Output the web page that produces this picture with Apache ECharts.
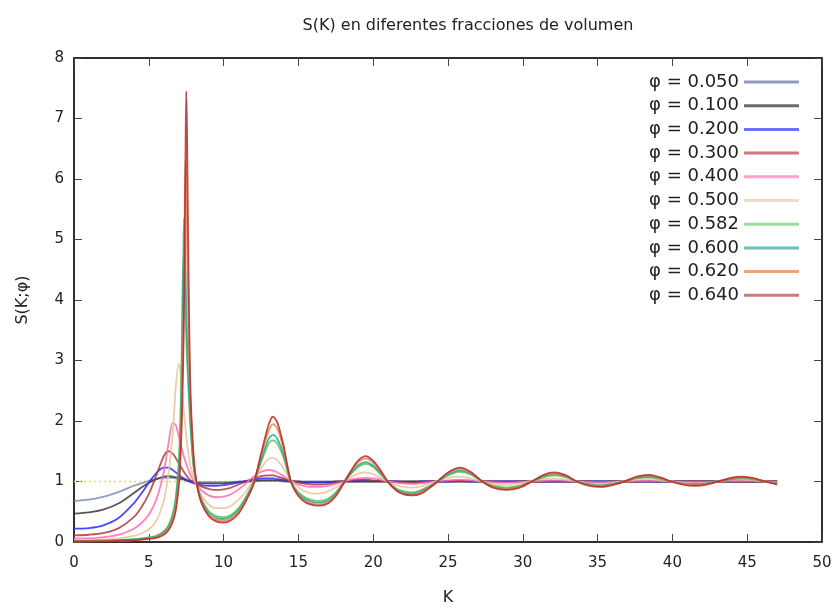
<!DOCTYPE html>
<html>
<head>
<meta charset="utf-8">
<script src="https://cdn.jsdelivr.net/npm/echarts@6/dist/echarts.min.js"></script>
<style>
html,body{margin:0;padding:0;background:#fff;}
#chart{width:835px;height:611px;}
</style>
</head>
<body>
<div id="chart"></div>
<script>
var K = [0,1,2,3,4,4.5,5,5.5,
 6,6.3,6.6,6.8,7.0,7.1,7.2,7.3,
 7.35,7.4,7.45,7.5,7.55,7.6,7.7,7.8,
 8.0,8.2,8.5,9,9.5,10,10.5,11,
 11.5,12,12.5,13,13.3,13.6,14,14.5,
 15,15.5,16,16.4,17,17.5,18,18.5,
 19,19.5,20,20.5,21,21.5,22,22.6,
 23.2,23.8,24.3,25,25.8,26.5,27.3,28,
 28.9,29.8,30.6,31.4,32.1,32.9,33.6,34.4,
 35.2,36,36.9,37.6,38.4,39.2,39.9,40.7,
 41.5,42.3,43.2,43.9,44.7,45.5,46.2,47];

var labels = ['φ = 0.050','φ = 0.100','φ = 0.200','φ = 0.300','φ = 0.400','φ = 0.500','φ = 0.582','φ = 0.600','φ = 0.620','φ = 0.640'];

var S050 = [0.68,0.70,0.75,0.83,0.93,0.97,1.01,1.04,
 1.06,1.06,1.06,1.05,1.04,1.04,1.03,1.03,
 1.03,1.02,1.02,1.02,1.01,1.01,1.01,1.00,
 1.00,0.99,0.99,0.99,0.99,0.99,0.99,1.00,
 1.00,1.00,1.01,1.01,1.01,1.01,1.00,1.00,
 1.00,1.00,1.00,1.00,1.00,1.00,1.00,1.00,
 1.00,1.00,1.00,1.00,1.00,1.00,1.00,1.00,
 1.00,1.00,1.00,1.00,1.00,1.00,1.00,1.00,
 1.00,1.00,1.00,1.00,1.00,1.00,1.00,1.00,
 1.00,1.00,1.00,1.00,1.00,1.00,1.00,1.00,
 1.00,1.00,1.00,1.00,1.00,1.00,1.00,1.00];

var S100 = [0.47,0.49,0.54,0.64,0.81,0.90,0.98,1.04,
 1.08,1.09,1.08,1.07,1.06,1.05,1.05,1.04,
 1.04,1.03,1.03,1.03,1.02,1.02,1.01,1.01,
 0.99,0.98,0.97,0.97,0.97,0.97,0.98,0.99,
 1.00,1.01,1.02,1.02,1.02,1.02,1.01,1.00,
 1.00,0.99,0.99,0.99,0.99,1.00,1.00,1.00,
 1.00,1.00,1.00,1.00,1.00,1.00,1.00,1.00,
 1.00,1.00,1.00,1.00,1.00,1.00,1.00,1.00,
 1.00,1.00,1.00,1.00,1.00,1.00,1.00,1.00,
 1.00,1.00,1.00,1.00,1.00,1.00,1.00,1.00,
 1.00,1.00,1.00,1.00,1.00,1.00,1.00,1.00];

var S200 = [0.22,0.23,0.28,0.40,0.64,0.80,0.98,1.14,
 1.23,1.23,1.19,1.15,1.11,1.09,1.07,1.06,
 1.05,1.04,1.04,1.03,1.02,1.01,1.00,0.99,
 0.97,0.96,0.94,0.93,0.93,0.94,0.96,0.98,
 1.01,1.03,1.05,1.05,1.05,1.04,1.03,1.01,
 0.99,0.98,0.98,0.98,0.99,0.99,1.00,1.01,
 1.02,1.02,1.01,1.01,1.00,1.00,0.99,0.99,
 1.00,1.00,1.00,1.00,1.01,1.00,1.00,1.00,
 1.00,1.00,1.00,1.00,1.00,1.00,1.00,1.00,
 1.00,1.00,1.00,1.00,1.00,1.00,1.00,1.00,
 1.00,1.00,1.00,1.00,1.00,1.00,1.00,1.00];

var S300 = [0.11,0.12,0.15,0.23,0.41,0.57,0.79,1.10,
 1.42,1.50,1.46,1.39,1.30,1.26,1.22,1.18,
 1.16,1.14,1.12,1.10,1.09,1.07,1.04,1.02,
 0.99,0.96,0.92,0.88,0.86,0.87,0.90,0.95,
 1.00,1.05,1.09,1.10,1.10,1.08,1.05,1.01,
 0.98,0.96,0.95,0.95,0.96,0.98,1.00,1.02,
 1.03,1.03,1.02,1.01,1.00,0.99,0.98,0.98,
 0.99,1.00,1.00,1.01,1.01,1.01,1.00,1.00,
 0.99,1.00,1.00,1.00,1.01,1.00,1.00,1.00,
 0.99,1.00,1.00,1.00,1.01,1.00,1.00,1.00,
 1.00,1.00,1.00,1.00,1.00,1.00,1.00,1.00];

var S400 = [0.06,0.06,0.08,0.12,0.22,0.31,0.45,0.70,
 1.15,1.60,1.97,1.93,1.75,1.64,1.54,1.45,
 1.41,1.37,1.33,1.29,1.26,1.22,1.16,1.10,
 1.02,0.95,0.86,0.77,0.74,0.75,0.79,0.87,
 0.97,1.08,1.16,1.19,1.18,1.15,1.09,1.01,
 0.95,0.92,0.91,0.91,0.93,0.96,1.00,1.03,
 1.05,1.06,1.05,1.03,1.00,0.98,0.97,0.96,
 0.97,0.99,1.00,1.02,1.03,1.02,1.00,0.99,
 0.98,0.99,1.00,1.01,1.02,1.01,1.00,0.99,
 0.99,0.99,1.00,1.01,1.01,1.01,1.00,0.99,
 0.99,0.99,1.00,1.01,1.01,1.01,1.00,0.99];

var S500 = [0.03,0.03,0.04,0.06,0.10,0.14,0.21,0.35,
 0.68,1.10,1.80,2.55,2.95,2.85,2.60,2.30,
 2.15,2.00,1.88,1.76,1.65,1.55,1.38,1.24,
 1.05,0.94,0.78,0.62,0.56,0.56,0.60,0.70,
 0.84,1.02,1.22,1.37,1.39,1.35,1.22,1.02,
 0.90,0.83,0.80,0.80,0.84,0.90,0.98,1.07,
 1.13,1.15,1.12,1.06,0.99,0.94,0.91,0.90,
 0.92,0.97,1.01,1.06,1.08,1.05,1.00,0.96,
 0.94,0.97,1.01,1.04,1.05,1.03,1.00,0.97,
 0.96,0.98,1.01,1.03,1.04,1.02,1.00,0.98,
 0.97,0.98,1.01,1.03,1.03,1.02,1.00,0.98];

var S582 = [0.02,0.02,0.03,0.03,0.05,0.06,0.08,0.10,
 0.18,0.27,0.47,0.74,1.32,1.95,3.10,4.70,
 4.55,4.20,3.80,3.40,3.05,2.80,2.30,1.85,
 1.22,0.97,0.72,0.51,0.43,0.41,0.45,0.56,
 0.75,0.99,1.32,1.62,1.68,1.62,1.40,1.00,
 0.82,0.73,0.69,0.68,0.72,0.82,0.97,1.12,
 1.24,1.29,1.24,1.12,0.99,0.89,0.84,0.82,
 0.86,0.93,1.00,1.10,1.16,1.12,1.00,0.93,
 0.90,0.93,1.00,1.07,1.10,1.07,1.00,0.96,
 0.94,0.96,1.01,1.05,1.07,1.04,1.00,0.97,
 0.96,0.97,1.01,1.04,1.05,1.03,1.00,0.97];

var S600 = [0.02,0.02,0.02,0.03,0.04,0.05,0.07,0.09,
 0.16,0.24,0.42,0.66,1.18,1.72,2.70,4.40,
 5.35,5.10,4.50,3.90,3.40,3.00,2.40,1.90,
 1.25,0.97,0.70,0.48,0.40,0.38,0.42,0.53,
 0.73,0.98,1.35,1.70,1.77,1.70,1.45,1.00,
 0.80,0.70,0.66,0.65,0.69,0.80,0.97,1.14,
 1.27,1.32,1.26,1.13,0.99,0.88,0.82,0.80,
 0.84,0.92,1.00,1.12,1.18,1.13,1.00,0.92,
 0.88,0.92,1.00,1.09,1.12,1.08,1.00,0.95,
 0.93,0.96,1.01,1.06,1.08,1.05,1.00,0.96,
 0.95,0.97,1.01,1.04,1.06,1.04,1.00,0.97];

var S620 = [0.01,0.01,0.02,0.02,0.03,0.04,0.06,0.08,
 0.14,0.21,0.37,0.58,1.02,1.45,2.20,3.40,
 4.30,5.50,6.30,6.00,5.20,4.30,3.00,2.20,
 1.35,0.97,0.68,0.45,0.37,0.35,0.39,0.50,
 0.70,0.97,1.42,1.83,1.95,1.87,1.55,1.00,
 0.78,0.67,0.63,0.62,0.66,0.78,0.97,1.16,
 1.32,1.38,1.31,1.16,0.99,0.87,0.80,0.78,
 0.82,0.91,1.00,1.14,1.21,1.15,1.00,0.91,
 0.87,0.91,1.00,1.10,1.13,1.09,1.00,0.94,
 0.92,0.95,1.01,1.07,1.10,1.06,1.00,0.96,
 0.94,0.96,1.01,1.05,1.07,1.04,1.00,0.96];

var S640 = [0.01,0.01,0.01,0.02,0.03,0.04,0.05,0.07,
 0.12,0.19,0.33,0.52,0.92,1.30,1.95,3.00,
 3.80,4.90,6.30,7.45,6.90,5.70,3.60,2.40,
 1.40,0.97,0.66,0.43,0.34,0.32,0.36,0.47,
 0.68,0.95,1.45,1.93,2.07,1.97,1.60,1.00,
 0.76,0.65,0.61,0.60,0.64,0.76,0.96,1.17,
 1.35,1.42,1.34,1.18,0.99,0.86,0.79,0.77,
 0.80,0.90,1.00,1.15,1.23,1.16,1.00,0.90,
 0.86,0.90,1.00,1.11,1.15,1.10,1.00,0.93,
 0.91,0.94,1.01,1.08,1.11,1.07,1.00,0.95,
 0.93,0.95,1.01,1.06,1.08,1.05,1.00,0.95];

var refLine = [[0,1],[47,1]];

var seriesValues = [S050,S100,S200,S300,S400,S500,S582,S600,S620,S640];
var colors = ['#7b8db5','#3a3a3a','#2a2aff','#b03a3a','#ff6ab4','#e8c49a','#5cc45c','#23a595','#e8884a','#b52a2a'];
var legendColors = ['#8c9cbf','#6a6a6a','#6f6fff','#cc7a7a','#ffa0d0','#efdcc6','#9ddc9d','#6cc0b8','#eca57a','#cc7a7a'];

var series = [{
  name: 'ref', type: 'line', data: refLine, symbol: 'none', silent: true,
  lineStyle: {color: '#e8e040', width: 1.5, type: [2, 3]}, z: 1
}];
for (var i = 0; i < labels.length; i++) {
  series.push({
    name: labels[i], type: 'line', symbol: 'none', smooth: 0.3,
    data: K.map(function (k, j) { return [k, seriesValues[i][j]]; }),
    lineStyle: {color: colors[i], width: 1.8, opacity: 0.85},
    itemStyle: {color: legendColors[i]},
    z: 2 + i
  });
}

var FONT = 'DejaVu Sans';
var tick = {show: true, inside: true, length: 8, lineStyle: {color: '#444', width: 1}};
function axisLine() { return {show: true, onZero: false, lineStyle: {color: '#222', width: 1.5}}; }
var chart = echarts.init(document.getElementById('chart'), null, {renderer: 'canvas'});
chart.setOption({
  animation: false,
  backgroundColor: '#ffffff',
  title: {
    text: 'S(K) en diferentes fracciones de volumen',
    left: 463, top: 13, textAlign: 'center',
    textStyle: {fontFamily: FONT, fontSize: 16, fontWeight: 'normal', color: '#222'}
  },
  legend: {
    data: labels, orient: 'vertical', align: 'right',
    right: 31, top: 67, itemWidth: 55, itemHeight: 3, itemGap: 3.7, icon: 'rect',
    textStyle: {fontFamily: FONT, fontSize: 18, color: '#222', lineHeight: 20}
  },
  grid: {left: 74, right: 13, top: 58, bottom: 69, show: true, borderColor: '#222', borderWidth: 1.5},
  xAxis: [{
    type: 'value', min: 0, max: 50, interval: 5, position: 'bottom',
    name: 'K', nameLocation: 'middle', nameGap: 48,
    nameTextStyle: {fontFamily: FONT, fontSize: 16, color: '#222'},
    axisLine: axisLine(), axisTick: tick,
    axisLabel: {fontFamily: FONT, fontSize: 15, color: '#222', margin: 14},
    splitLine: {show: false}
  }, {
    type: 'value', min: 0, max: 50, interval: 5, position: 'top',
    axisLine: axisLine(), axisTick: tick,
    axisLabel: {show: false}, splitLine: {show: false}
  }],
  yAxis: [{
    type: 'value', min: 0, max: 8, interval: 1, position: 'left',
    name: 'S(K;φ)', nameLocation: 'middle', nameGap: 43,
    nameTextStyle: {fontFamily: FONT, fontSize: 16, color: '#222'},
    axisLine: axisLine(), axisTick: tick,
    axisLabel: {fontFamily: FONT, fontSize: 15, color: '#222', margin: 10},
    splitLine: {show: false}
  }, {
    type: 'value', min: 0, max: 8, interval: 1, position: 'right',
    axisLine: axisLine(), axisTick: tick,
    axisLabel: {show: false}, splitLine: {show: false}
  }],
  series: series
});
</script>
</body>
</html>
